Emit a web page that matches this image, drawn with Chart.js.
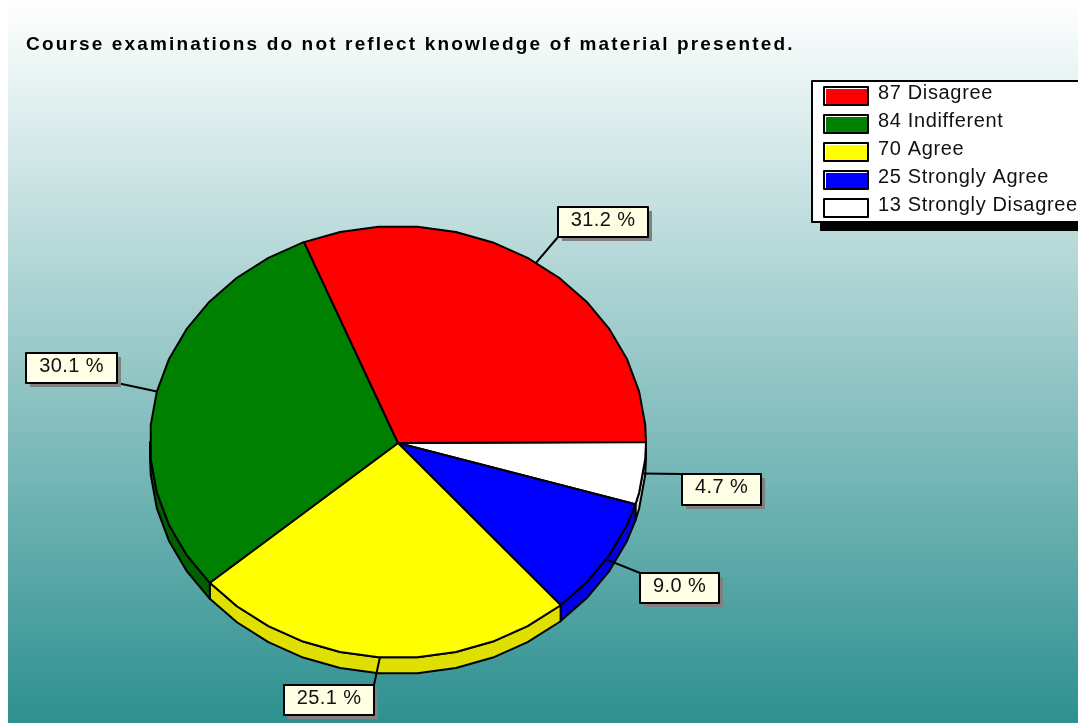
<!DOCTYPE html>
<html lang="en">
<head>
    <meta charset="UTF-8">
    <title>Course examinations</title>
    <script src="https://cdn.jsdelivr.net/npm/chart.js"></script>
    <style>
        html, body { margin: 0; padding: 0; background: #fff; overflow: hidden; }
        #wrap { position: relative; width: 1078px; height: 723px; }
    </style>
</head>
<body>
<div id="wrap"><canvas id="chart" width="1078" height="723"></canvas></div>

<script>
const titleText = 'Course examinations do not reflect knowledge of material presented.';
const categories = ['Disagree', 'Indifferent', 'Agree', 'Strongly Agree', 'Strongly Disagree'];
const counts = [87, 84, 70, 25, 13];
const colors = ['#ff0000', '#008000', '#ffff00', '#0000ff', '#ffffff'];
const sideColors = ['#e00000', '#006000', '#e0e000', '#0000e0', '#e0e0e0'];
// label box corners, same order as categories
const boxes = [[558, 207, 90, 30], [26, 353, 91, 30], [284, 685, 90, 30], [640, 573, 79, 30], [682, 474, 79, 31]];

const rx = 248, ry = 216, liftY = 1, depth = 16;
const step = Math.PI / 20; // the original pie is made of 9 degree facets
const font = '"Liberation Sans", Arial, sans-serif';
const total = counts.reduce((a, b) => a + b, 0);

// pie runs clockwise from the east, legend runs the other way round
const rev = a => a.slice().reverse();
const idx = i => counts.length - 1 - i;

// points of the faceted rim between two angles
function rim(x, y, a0, a1) {
    const angles = [a0];
    for (let a = step / 2; a < Math.PI * 2; a += step) {
        if (a > a0 && a < a1) angles.push(a);
    }
    angles.push(a1);
    return angles.map(a => [x + rx * Math.cos(a), y - liftY + ry * Math.sin(a)]);
}

class FacetArc extends Chart.ArcElement {
    draw(ctx) {
        const { x, y, startAngle, endAngle } = this.getProps(['x', 'y', 'startAngle', 'endAngle']);
        ctx.beginPath();
        ctx.moveTo(x, y);
        rim(x, y, startAngle, endAngle).forEach(p => ctx.lineTo(p[0], p[1]));
        ctx.closePath();
        ctx.fillStyle = this.options.backgroundColor;
        ctx.fill();
        ctx.lineWidth = this.options.borderWidth;
        ctx.strokeStyle = this.options.borderColor;
        ctx.lineJoin = 'round';
        ctx.stroke();
    }
}
FacetArc.id = 'facetArc';

class FacetPie extends Chart.PieController {}
FacetPie.id = 'facetPie';
FacetPie.defaults = { dataElementType: 'facetArc' };

Chart.register(FacetArc, FacetPie);

const piePlugin = {
    id: 'piePlugin',
    beforeDraw(chart) {
        const ctx = chart.ctx;
        const g = ctx.createLinearGradient(0, 0, 0, 723);
        g.addColorStop(0, '#ffffff');
        g.addColorStop(1, '#2e9090');
        ctx.fillStyle = g;
        ctx.fillRect(8, 0, 1070, 723);

        ctx.save();
        ctx.fillStyle = '#000';
        ctx.font = 'bold 19px ' + font;
        ctx.letterSpacing = '2.16px';
        ctx.textBaseline = 'alphabetic';
        ctx.fillText(titleText, 26, 50);
        ctx.restore();
    },
    beforeDatasetsDraw(chart) {
        const ctx = chart.ctx;
        ctx.save();
        ctx.lineWidth = 2;
        ctx.strokeStyle = '#000';
        ctx.lineJoin = 'round';
        chart.getDatasetMeta(0).data.forEach((arc, i) => {
            const a0 = Math.max(arc.startAngle, 0);
            const a1 = Math.min(arc.endAngle, Math.PI);
            if (a1 <= a0) return;
            const top = rim(arc.x, arc.y, a0, a1);
            ctx.beginPath();
            top.forEach(p => ctx.lineTo(p[0], p[1]));
            top.reverse().forEach(p => ctx.lineTo(p[0], p[1] + depth));
            ctx.closePath();
            ctx.fillStyle = sideColors[idx(i)];
            ctx.fill();
            ctx.stroke();
        });
        ctx.restore();
    },
    afterDatasetsDraw(chart) {
        const ctx = chart.ctx;
        ctx.save();
        ctx.font = '20px ' + font;
        ctx.letterSpacing = '0.4px';
        ctx.textAlign = 'center';
        ctx.textBaseline = 'alphabetic';
        chart.getDatasetMeta(0).data.forEach((arc, i) => {
            const k = idx(i);
            const [x, y, w, h] = boxes[k];
            const mid = (arc.startAngle + arc.endAngle) / 2;
            const px = arc.x + rx * Math.cos(mid);
            const py = arc.y - liftY + ry * Math.sin(mid);
            const ex = Math.max(x, Math.min(x + w, px));
            const ey = Math.max(y, Math.min(y + h, py));

            ctx.strokeStyle = '#000';
            ctx.lineWidth = 2;
            ctx.beginPath();
            ctx.moveTo(px, py);
            ctx.lineTo(ex, ey);
            ctx.stroke();

            ctx.fillStyle = '#808080';
            ctx.fillRect(x + 4, y + 4, w, h);
            ctx.fillStyle = '#ffffe6';
            ctx.fillRect(x, y, w, h);
            ctx.strokeRect(x, y, w, h);

            ctx.fillStyle = '#111';
            ctx.fillText((counts[k] / total * 100).toFixed(1) + ' %', x + w / 2, y + 19);
        });
        ctx.restore();

        // legend
        ctx.save();
        ctx.fillStyle = '#000';
        ctx.fillRect(820, 222, 258, 9);
        ctx.fillStyle = '#fff';
        ctx.fillRect(812, 81, 270, 141);
        ctx.strokeStyle = '#000';
        ctx.lineWidth = 2;
        ctx.strokeRect(812, 81, 270, 141);
        ctx.font = '20px ' + font;
        ctx.letterSpacing = '0.65px';
        ctx.textBaseline = 'alphabetic';
        categories.forEach((name, k) => {
            const y = 87 + k * 28;
            ctx.fillStyle = '#fff';
            ctx.fillRect(824, y, 44, 18);
            ctx.fillStyle = colors[k];
            ctx.fillRect(826, y + 2, 42, 16);
            ctx.strokeStyle = '#000';
            ctx.strokeRect(824, y, 44, 18);
            ctx.fillStyle = '#111';
            ctx.fillText(counts[k] + ' ' + name, 878, y + 12);
        });
        ctx.restore();
    }
};

new Chart(document.getElementById('chart').getContext('2d'), {
    type: 'facetPie',
    data: {
        labels: rev(categories),
        datasets: [{
            data: rev(counts),
            backgroundColor: rev(colors),
            borderColor: '#000',
            borderWidth: 2
        }]
    },
    options: {
        responsive: false,
        animation: false,
        rotation: 90,
        radius: rx,
        layout: { padding: { left: 0, right: 282, top: 163, bottom: 0 } },
        plugins: { legend: { display: false }, tooltip: { enabled: false } }
    },
    plugins: [piePlugin]
});
</script>
</body>
</html>
